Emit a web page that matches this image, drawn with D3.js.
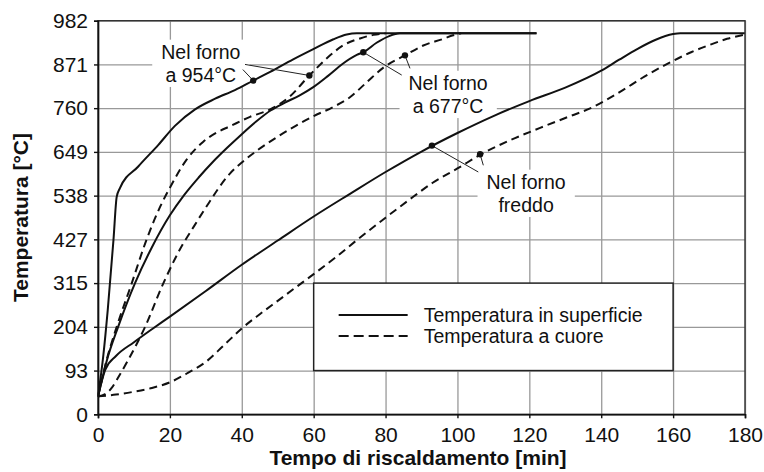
<!DOCTYPE html>
<html>
<head>
<meta charset="utf-8">
<script src="https://cdn.jsdelivr.net/npm/d3@7"></script>
<style>
  body { margin: 0; background: #fff; }
  svg { display: block; }
  text { font-family: "Liberation Sans", Arial, Helvetica, sans-serif; fill: #111; }
</style>
</head>
<body>
<svg id="chart" width="764" height="472"></svg>
<script>
// ---------- DATA (time [min], temperature [°C]) ----------
const timeTicks = [0, 20, 40, 60, 80, 100, 120, 140, 160, 180];
const tempTicks = [0, 93, 204, 315, 427, 538, 649, 760, 871, 982];

// Furnace at 954 °C
const surface954 = [[0,38],[1.5,133],[2.7,246],[4.3,425],[5.2,535],[6.1,557],[11.2,612],[16.8,667],[21.4,715],[27,757],[32.6,784],[38.1,806],[43.2,830],[47.9,852],[54.3,884],[59.9,910],[65.5,935],[69.2,947],[72,950],[122,950]];
const core954    = [[0,38],[2.4,120],[5.2,204],[9.4,315],[13.1,416],[14.5,450],[17.3,510],[20,558],[24.7,630],[29.3,675],[33,698],[36.7,714],[42.3,738],[47.9,757],[53.4,790],[58.8,843],[63.6,886],[68.3,920],[72.9,937],[76.6,946],[80,950]];
// Furnace at 677 °C
const surface677 = [[0,38],[2.5,120],[5.6,204],[10.3,315],[14.9,405],[20,488],[24,540],[28,584],[32,624],[36,660],[40,694],[44,726],[48,754],[52,774],[56,792],[60,814],[64,842],[68,872],[72,895],[74,903],[77.5,926],[81,943],[84,950],[122,950]];
const core677    = [[0,38],[2,43],[3.8,56],[5.2,73],[8.4,120],[13.1,204],[18.2,315],[23.7,416],[25.6,444],[29.8,505],[36.7,594],[40,622],[44.2,652],[49.7,686],[55,715],[60,740],[65,761],[70,787],[74.8,826],[79.4,863],[85.4,894],[90.5,919],[96.1,936],[98.8,945],[101,950]];
// Cold furnace
const surfaceCold = [[0,38],[2,95],[5,130],[10,165],[15,198],[20,230],[30,295],[40,362],[50,424],[60,485],[70,542],[80,598],[90,650],[100,697],[110,740],[120,778],[130,812],[140,855],[145,883],[150,910],[155,933],[160,948],[162,950],[180,950]];
const coreCold    = [[0,38],[5,42],[10,48],[15,56],[20,68],[25,88],[30,115],[35,157],[40,200],[45,236],[50,270],[55,304],[60,338],[66,380],[72,425],[80,482],[87.7,535],[93,570],[100,607],[107,645],[115,680],[123,710],[130,735],[137.5,762],[145,800],[152,840],[158.5,873],[165,902],[170,920],[175,936],[180,947]];

const seriesNames = ["surface954","core954","surface677","core677","surfaceCold","coreCold"];
const seriesData  = [surface954, core954, surface677, core677, surfaceCold, coreCold];
const seriesDashed = [false, true, false, true, false, true];

// annotation dots on the curves
const dotPoints = [[43.2,830],[58.8,843],[73.8,902],[85.4,894],[92.9,665],[106.3,643]];

// annotations: text lines, anchor (center of first line) in data units, leader lines [from, to]
const annotLines = [["Nel forno","a 954°C"],["Nel forno","a 677°C"],["Nel forno","freddo"]];
const annotAnchor = [[28.6,903],[97.4,824],[119.1,573]];
const leaderFrom = [[40.9,871],[40.3,858],[84.5,844],[86.8,861],[105.8,598],[107.2,615]];
const leaderTo   = [[58.8,843],[43.2,830],[73.8,902],[85.4,894],[92.9,665],[106.3,643]];

const legendLabels = ["Temperatura in superficie","Temperatura a cuore"];
const legendDashed = [false, true];
const legendBoxX = [60, 160];
const legendBoxY = [315, 93];

const xTitle = "Tempo di riscaldamento [min]";
const yTitle = "Temperatura [°C]";

// ---------- LAYOUT ----------
const svg = d3.select("#chart");
const P = { left: 98, right: 745, top: 20.7, bottom: 414.3 };
const x = d3.scaleLinear().domain([0, 180]).range([P.left, P.right]);
const step = (P.bottom - P.top) / (tempTicks.length - 1);
const y = d3.scaleLinear().domain(tempTicks).range(tempTicks.map((d, i) => P.bottom - i * step));
const dash = "8,5";

// grid
const grid = svg.append("g").attr("class", "grid");
grid.append("g").attr("transform", `translate(0,${P.bottom})`)
  .call(d3.axisBottom(x).tickValues(timeTicks).tickSize(-(P.bottom - P.top)).tickFormat(""))
  .call(g => g.select(".domain").remove());
grid.append("g").attr("transform", `translate(${P.left},0)`)
  .call(d3.axisLeft(y).tickValues(tempTicks).tickSize(-(P.right - P.left)).tickFormat(""))
  .call(g => g.select(".domain").remove());
grid.selectAll("line").attr("stroke", "#999").attr("stroke-width", 1.3);

// annotation text (measure first for white boxes)
const boxG = svg.append("g");
const textG = svg.append("g");
const lineH = 23.3;
annotLines.forEach((lines, i) => {
  const t = textG.append("text")
    .attr("text-anchor", "middle")
    .attr("font-size", 19.5);
  lines.forEach((s, j) => {
    t.append("tspan")
      .attr("x", x(annotAnchor[i][0]))
      .attr("y", y(annotAnchor[i][1]) + j * lineH)
      .attr("dy", "0.35em")
      .text(s);
  });
  const bb = t.node().getBBox();
  boxG.append("rect")
    .attr("x", bb.x - 9).attr("y", bb.y - 1)
    .attr("width", bb.width + 18).attr("height", bb.height + 2)
    .attr("fill", "#fff");
});

// curves
const line = d3.line().x(d => x(d[0])).y(d => y(d[1])).curve(d3.curveMonotoneX);
const curveG = svg.append("g");
seriesData.forEach((data, i) => {
  curveG.append("path")
    .datum(data)
    .attr("class", seriesNames[i])
    .attr("d", line)
    .attr("fill", "none")
    .attr("stroke", "#111")
    .attr("stroke-width", 2)
    .attr("stroke-linejoin", "round")
    .attr("stroke-dasharray", seriesDashed[i] ? dash : null);
});

// leader lines
svg.append("g").selectAll("line").data(leaderFrom).join("line")
  .attr("x1", d => x(d[0])).attr("y1", d => y(d[1]))
  .attr("x2", (d, i) => x(leaderTo[i][0])).attr("y2", (d, i) => y(leaderTo[i][1]))
  .attr("stroke", "#222").attr("stroke-width", 1);

// dots
svg.append("g").selectAll("circle").data(dotPoints).join("circle")
  .attr("cx", d => x(d[0])).attr("cy", d => y(d[1])).attr("r", 3.2).attr("fill", "#111");

textG.raise();

// legend
const lg = svg.append("g");
const lx0 = x(legendBoxX[0]), lx1 = x(legendBoxX[1]);
const ly0 = y(legendBoxY[0]), ly1 = y(legendBoxY[1]);
lg.append("rect").attr("x", lx0).attr("y", ly0).attr("width", lx1 - lx0).attr("height", ly1 - ly0)
  .attr("fill", "#fff").attr("stroke", "#222").attr("stroke-width", 1.5);
legendLabels.forEach((lab, i) => {
  const yy = ly0 + 32 + i * 21;
  lg.append("line").attr("x1", lx0 + 25).attr("x2", lx0 + 94).attr("y1", yy).attr("y2", yy)
    .attr("stroke", "#111").attr("stroke-width", 2)
    .attr("stroke-dasharray", legendDashed[i] ? "10,5" : null);
  lg.append("text").attr("x", lx0 + 110).attr("y", yy).attr("dy", "0.35em")
    .attr("font-size", 19.5).text(lab);
});

// frame
svg.append("rect").attr("x", P.left).attr("y", P.top)
  .attr("width", P.right - P.left).attr("height", P.bottom - P.top)
  .attr("fill", "none").attr("stroke", "#333").attr("stroke-width", 1.4);

// axes
const xa = svg.append("g").attr("transform", `translate(0,${P.bottom})`)
  .call(d3.axisBottom(x).tickValues(timeTicks).tickSize(4).tickPadding(9).tickFormat(d3.format("d")));
const ya = svg.append("g").attr("transform", `translate(${P.left},0)`)
  .call(d3.axisLeft(y).tickValues(tempTicks).tickSize(4).tickPadding(6).tickFormat(d3.format("d")));
[xa, ya].forEach(a => {
  a.selectAll("path.domain").attr("stroke", "#111").attr("stroke-width", 1.6);
  a.selectAll(".tick line").attr("stroke", "#111").attr("stroke-width", 1.4);
  a.selectAll(".tick text").attr("font-size", 21).attr("fill", "#111")
    .attr("font-family", "'Liberation Sans', Arial, Helvetica, sans-serif");
});

// titles
svg.append("text").attr("x", 418).attr("y", 465).attr("text-anchor", "middle")
  .attr("font-size", 21).attr("font-weight", "bold").text(xTitle);
svg.append("text").attr("transform", `translate(28,${(P.top + P.bottom) / 2}) rotate(-90)`)
  .attr("text-anchor", "middle").attr("font-size", 21).attr("font-weight", "bold").text(yTitle);
</script>
</body>
</html>
